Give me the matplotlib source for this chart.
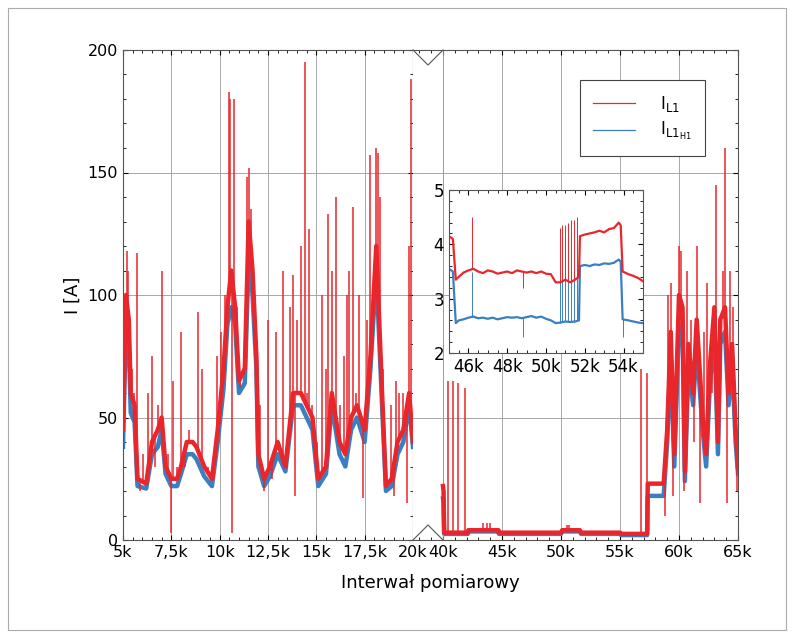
import numpy as np
import matplotlib
matplotlib.use("Agg")
import matplotlib.pyplot as plt
from matplotlib.ticker import FuncFormatter, AutoMinorLocator

# ---- data (x in thousands of samples, current in A) ----
left_x = [5.0,5.15,5.3,5.4,5.6,5.75,6.2,6.5,6.8,7.0,7.2,7.5,7.8,8.0,8.3,8.6,8.8,9.2,9.6,9.9,10.2,10.4,10.6,10.8,11.0,11.3,11.5,11.7,11.9,12.0,12.3,12.6,13.0,13.4,13.8,14.2,14.5,14.8,15.1,15.5,15.8,16.2,16.5,16.8,17.1,17.5,17.8,18.1,18.4,18.6,18.9,19.2,19.5,19.8,20.0]
left_red = [45,100,90,60,55,25,23,40,45,50,30,25,25,30,40,40,38,30,25,45,70,95,110,95,65,70,130,110,75,35,25,30,40,30,60,60,55,50,25,30,60,40,35,50,55,45,75,120,60,22,25,40,45,60,40]
left_blue = [38,88,80,52,48,22,21,35,38,45,27,22,22,27,35,35,33,26,22,40,62,88,95,88,60,64,115,100,70,30,22,26,35,28,55,55,50,45,22,27,55,35,30,45,50,40,70,110,55,20,22,35,40,55,38]
left_spike_x = [5.05,5.2,5.25,5.45,5.55,5.7,5.9,6.05,6.3,6.5,6.65,6.8,7.0,7.1,7.35,7.5,7.6,7.8,8.0,8.2,8.4,8.6,8.9,9.1,9.4,9.7,9.85,10.05,10.3,10.5,10.55,10.65,10.75,10.9,11.05,11.3,11.4,11.5,11.6,11.8,12.1,12.3,12.5,12.7,12.9,13.1,13.3,13.5,13.65,13.8,13.9,14.0,14.2,14.4,14.5,14.6,14.8,15.05,15.3,15.5,15.6,15.8,16.0,16.2,16.45,16.6,16.7,16.9,17.05,17.2,17.4,17.6,17.8,17.95,18.1,18.2,18.3,18.45,18.65,18.85,19.0,19.1,19.3,19.5,19.7,19.8,19.9]
left_spike_y = [65,118,110,70,60,117,20,35,60,75,30,55,110,40,35,3,65,30,85,30,45,40,93,70,30,25,75,85,100,183,180,3,180,95,62,75,148,152,135,80,55,20,90,25,85,35,110,30,95,108,18,90,120,195,60,127,55,40,100,70,133,110,140,55,75,100,110,136,60,100,17,90,157,80,160,158,140,70,25,55,18,65,60,60,15,120,188]

right_x = [40.0,40.05,40.1,42.1,42.15,44.7,44.75,50.0,50.1,51.6,51.7,55.0,55.1,57.3,57.35,58.7,59.0,59.3,59.6,60.0,60.3,60.5,60.8,61.2,61.5,62.0,62.3,62.6,63.0,63.3,63.5,63.9,64.2,64.5,64.8,65.0]
right_red = [22,20,3,3,4,4,3,3,4,4,3,3,2.5,2.5,23,23,45,85,35,100,95,28,80,60,90,50,35,70,95,40,90,95,60,80,45,30]
right_blue = [17,15,2.5,2.5,3.5,3.5,2.5,2.5,3.5,3.5,2.5,2.5,2,2,18,18,40,75,30,88,85,24,72,55,80,45,30,62,85,35,80,85,55,72,40,27]
right_spike_x = [40.4,40.85,41.3,41.9,43.4,43.7,44.0,50.5,50.7,56.8,57.3,58.8,59.1,59.3,59.5,59.8,60.0,60.2,60.4,60.7,61.0,61.3,61.5,61.8,62.1,62.4,62.8,63.1,63.4,63.7,63.9,64.1,64.3,64.6,64.9]
right_spike_y = [65,65,64,62,7,7,7,6,6,70,68,10,100,105,18,60,120,118,20,110,90,40,120,15,85,105,60,145,40,110,160,15,110,95,20]

inset_x = [45.0,45.2,45.35,45.5,45.75,46.0,46.25,46.5,46.75,47.0,47.25,47.5,47.75,48.0,48.25,48.5,48.75,49.0,49.25,49.5,49.75,50.0,50.25,50.5,50.75,51.0,51.25,51.5,51.7,51.75,52.0,52.25,52.5,52.75,53.0,53.25,53.5,53.75,53.85,53.95,54.25,54.5,54.75,55.0]
inset_red = [4.15,4.1,3.35,3.4,3.48,3.52,3.55,3.5,3.47,3.52,3.5,3.46,3.48,3.5,3.47,3.52,3.5,3.48,3.5,3.47,3.5,3.46,3.45,3.3,3.3,3.35,3.3,3.35,3.4,4.15,4.18,4.2,4.22,4.25,4.22,4.28,4.3,4.4,4.35,3.5,3.45,3.42,3.38,3.32]
inset_blue = [3.55,3.5,2.55,2.6,2.62,2.65,2.67,2.64,2.65,2.63,2.65,2.62,2.64,2.66,2.65,2.66,2.64,2.66,2.68,2.65,2.67,2.63,2.6,2.55,2.56,2.58,2.57,2.58,2.6,3.6,3.62,3.6,3.63,3.62,3.65,3.64,3.66,3.72,3.68,2.62,2.6,2.58,2.56,2.55]
inset_spike_x = [46.2,48.8,50.7,50.85,51.0,51.15,51.3,51.45,51.6]
inset_spike_y = [4.5,3.2,4.3,4.35,4.35,4.4,4.45,4.45,4.5]
inset_bspike_x = [46.2,48.8,50.7,50.85,51.0,51.15,51.3,51.45,51.6,53.95]
inset_bspike_y = [3.5,2.3,3.3,3.35,3.4,3.4,3.45,3.5,3.5,2.3]

RED = "#e8262b"
BLUE = "#3a7fc1"
GRID = "#9a9a9a"

plt.rcParams["font.family"] = "DejaVu Sans"
fig = plt.figure(figsize=(7.95, 6.38), dpi=100)
fig.patches.append(plt.Rectangle((8/795, 8/638), 778/795, 622/638, transform=fig.transFigure,
                                 fill=False, edgecolor="#aaaaaa", lw=0.8))

W, H = 795, 638
ax1 = fig.add_axes([123/W, (H-540)/H, 290/W, 490/H])
ax2 = fig.add_axes([413/W, (H-540)/H, 325/W, 490/H])

def kfmt(v, p):
    s = ("%g" % v).replace(".", ",")
    return s + "k"

def draw(ax, x, r, b, sx, sy, lw=3.2):
    base = np.interp(sx, x, r)
    ax.vlines(sx, np.minimum(base, sy), np.maximum(base, sy), color=RED, lw=1.1, zorder=3)
    ax.plot(x, b, color=BLUE, lw=lw, zorder=2)
    ax.plot(x, r, color=RED, lw=lw, zorder=4)

draw(ax1, left_x, left_red, left_blue, left_spike_x, left_spike_y)
draw(ax2, right_x, right_red, right_blue, right_spike_x, right_spike_y)

for ax in (ax1, ax2):
    ax.set_ylim(0, 200)
    ax.set_yticks([0, 50, 100, 150, 200])
    ax.yaxis.set_minor_locator(AutoMinorLocator(5))
    ax.xaxis.set_minor_locator(AutoMinorLocator(5))
    ax.grid(True, which="major", color=GRID, lw=0.6)
    ax.tick_params(which="both", direction="in", top=True, right=True, labelsize=11.5)
    ax.xaxis.set_major_formatter(FuncFormatter(kfmt))
    for s in ax.spines.values():
        s.set_color("#555555"); s.set_linewidth(0.8)

ax1.set_xlim(5, 20)
ax1.set_xticks([5, 7.5, 10, 12.5, 15, 17.5, 20])
ax1.set_ylabel("I [A]", fontsize=13)
ax2.set_xlim(37.46, 65)
ax2.set_xticks([40, 45, 50, 55, 60, 65])
ax2.tick_params(axis="y", which="both", left=False, labelleft=False)
ax2.spines["left"].set_visible(False)
ax2.axvline(40, color=GRID, lw=0.6)
fig.text((123+738)/2/W, (H-583)/H, "Interwał pomiarowy", ha="center", va="center", fontsize=13)

# break markers
tx = [0, 15/325, 30/325]
ax2.plot(tx, [1, 1-15/490, 1], transform=ax2.transAxes, color="#555555", lw=0.8, clip_on=False)
ax2.plot(tx, [0, 15/490, 0], transform=ax2.transAxes, color="#555555", lw=0.8, clip_on=False)

# legend
from matplotlib.lines import Line2D
h = [Line2D([], [], color=RED, lw=0.9), Line2D([], [], color=BLUE, lw=0.9)]
leg = ax2.legend(h, [r"$\mathregular{I_{L1}}$", r"$\mathregular{I_{L1_{H1}}}$"],
                 loc="upper right", bbox_to_anchor=(713/W, (H-72)/H), bbox_transform=fig.transFigure,
                 fontsize=12, fancybox=False, edgecolor="#444444", framealpha=1,
                 handlelength=2.5, handletextpad=1.5, borderpad=0.8, labelspacing=0.4)
leg.get_frame().set_linewidth(0.8)

# inset
ax3 = fig.add_axes([449/W, (H-353)/H, 194/W, 163/H])
ax3.plot(inset_x, inset_blue, color=BLUE, lw=1.6, zorder=2)
ax3.vlines(inset_bspike_x, np.interp(inset_bspike_x, inset_x, inset_blue), inset_bspike_y, color=BLUE, lw=0.7)
ax3.plot(inset_x, inset_red, color=RED, lw=1.6, zorder=4)
ax3.vlines(inset_spike_x, np.interp(inset_spike_x, inset_x, inset_red), inset_spike_y, color=RED, lw=0.7, zorder=3)
ax3.set_xlim(45, 55)
ax3.set_ylim(2, 5)
ax3.set_xticks([46, 48, 50, 52, 54])
ax3.set_yticks([2, 3, 4, 5])
ax3.xaxis.set_major_formatter(FuncFormatter(kfmt))
ax3.xaxis.set_minor_locator(AutoMinorLocator(4))
ax3.yaxis.set_minor_locator(AutoMinorLocator(5))
ax3.tick_params(which="both", direction="in", top=True, right=True, labelsize=12)
for s in ax3.spines.values():
    s.set_color("#555555"); s.set_linewidth(0.8)

fig.savefig("out.png", dpi=100)
